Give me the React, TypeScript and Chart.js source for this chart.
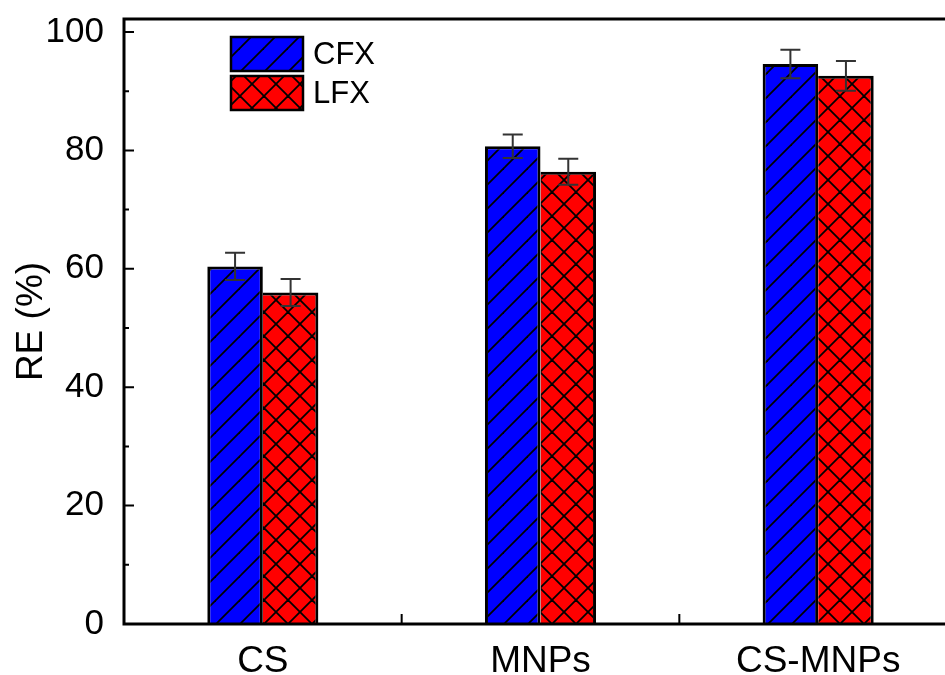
import React, { useEffect, useRef } from "react";
import { Chart, registerables } from "chart.js";

Chart.register(...registerables);

const categories = ["CS", "MNPs", "CS-MNPs"];
const seriesNames = ["CFX", "LFX"];
const cfxValues = [60.4, 80.7, 94.6];
const cfxErrors = [2.3, 2.0, 2.4];
const lfxValues = [56.0, 76.4, 92.6];
const lfxErrors = [2.3, 2.2, 2.5];
const yTickValues = [0, 20, 40, 60, 80, 100];
const yMinorValues = [10, 30, 50, 70, 90];

const FONT = "Arial, 'Liberation Sans', sans-serif";

function makeHatch(color: string, cross: boolean): CanvasPattern | string {
  const s = 24;
  const c = document.createElement("canvas");
  c.width = s;
  c.height = s;
  const g = c.getContext("2d");
  if (!g) return color;
  g.fillStyle = color;
  g.fillRect(0, 0, s, s);
  g.strokeStyle = "#000";
  g.lineWidth = 1.8;
  const seg = (x1: number, y1: number, x2: number, y2: number) => {
    g.beginPath();
    g.moveTo(x1, y1);
    g.lineTo(x2, y2);
    g.stroke();
  };
  // "/" direction
  seg(-2, s + 2, s + 2, -2);
  seg(-2, 2, 2, -2);
  seg(s - 2, s + 2, s + 2, s - 2);
  if (cross) {
    // "\" direction
    seg(-2, -2, s + 2, s + 2);
    seg(s - 2, -2, s + 2, 2);
    seg(-2, s - 2, 2, s + 2);
  }
  const p = g.createPattern(c, "repeat");
  return p || color;
}

const errorBars = {
  id: "errorBars",
  afterDatasetsDraw(chart: any) {
    const { ctx } = chart;
    const yScale = chart.scales.y;
    ctx.save();
    ctx.strokeStyle = "#333";
    ctx.lineWidth = 2;
    chart.data.datasets.forEach((ds: any, di: number) => {
      const meta = chart.getDatasetMeta(di);
      meta.data.forEach((bar: any, i: number) => {
        const v = ds.data[i];
        const e = ds.errors[i];
        const top = yScale.getPixelForValue(v + e);
        const bot = yScale.getPixelForValue(v - e);
        const x = bar.x;
        const cap = 10;
        ctx.beginPath();
        ctx.moveTo(x, top);
        ctx.lineTo(x, bot);
        ctx.moveTo(x - cap, top);
        ctx.lineTo(x + cap, top);
        ctx.moveTo(x - cap, bot);
        ctx.lineTo(x + cap, bot);
        ctx.stroke();
      });
    });
    ctx.restore();
  },
};

const frameAndTicks = {
  id: "frameAndTicks",
  afterDraw(chart: any) {
    const { ctx, chartArea } = chart;
    const { left, right, top, bottom } = chartArea;
    const yScale = chart.scales.y;
    const xScale = chart.scales.x;
    ctx.save();
    ctx.strokeStyle = "#000";
    ctx.lineWidth = 3;
    ctx.strokeRect(left, top, right - left, bottom - top);
    ctx.lineWidth = 2;
    ctx.beginPath();
    yTickValues.forEach((v) => {
      const y = yScale.getPixelForValue(v);
      ctx.moveTo(left, y);
      ctx.lineTo(left + 10, y);
    });
    yMinorValues.forEach((v) => {
      const y = yScale.getPixelForValue(v);
      ctx.moveTo(left, y);
      ctx.lineTo(left + 5, y);
    });
    for (let i = 0; i < categories.length - 1; i++) {
      const x = (xScale.getPixelForValue(i) + xScale.getPixelForValue(i + 1)) / 2;
      ctx.moveTo(x, bottom);
      ctx.lineTo(x, bottom - 10);
    }
    ctx.stroke();
    ctx.restore();
  },
};

const insetLegend = {
  id: "insetLegend",
  afterDraw(chart: any) {
    const { ctx } = chart;
    const bx = 231;
    const bw = 72;
    const bh = 34;
    const rows = [37, 76];
    ctx.save();
    chart.data.datasets.forEach((ds: any, i: number) => {
      const y = rows[i];
      ctx.fillStyle = ds.backgroundColor;
      ctx.fillRect(bx, y, bw, bh);
      ctx.strokeStyle = "#000";
      ctx.lineWidth = 2.5;
      ctx.strokeRect(bx, y, bw, bh);
      ctx.fillStyle = "#000";
      ctx.font = `31px ${FONT}`;
      ctx.textBaseline = "middle";
      ctx.textAlign = "left";
      ctx.fillText(ds.label, bx + bw + 10, y + bh / 2 + 1);
    });
    ctx.restore();
  },
};

export default function App() {
  const ref = useRef<HTMLCanvasElement | null>(null);

  useEffect(() => {
    if (!ref.current) return;
    const chart = new Chart(ref.current, {
      type: "bar",
      data: {
        labels: categories,
        datasets: [
          {
            label: seriesNames[0],
            data: cfxValues,
            errors: cfxErrors,
            backgroundColor: makeHatch("#0000FF", false),
            borderColor: "#000",
            borderWidth: { top: 3, left: 3, right: 3, bottom: 0 },
            borderSkipped: false,
          } as any,
          {
            label: seriesNames[1],
            data: lfxValues,
            errors: lfxErrors,
            backgroundColor: makeHatch("#FF0000", true),
            borderColor: "#000",
            borderWidth: { top: 3, left: 0, right: 3, bottom: 0 },
            borderSkipped: false,
          } as any,
        ],
      },
      options: {
        responsive: false,
        animation: false,
        layout: { padding: { left: 0, top: 19, right: 13, bottom: 0 } },
        datasets: { bar: { categoryPercentage: 0.4, barPercentage: 1 } },
        plugins: {
          legend: { display: false },
          tooltip: { enabled: false },
        },
        scales: {
          x: {
            grid: { display: false, drawTicks: false },
            border: { display: false },
            ticks: {
              color: "#000",
              padding: 16,
              font: { family: FONT, size: 37 },
            },
            afterFit(scale: any) {
              scale.height = 51;
            },
          },
          y: {
            min: 0,
            max: 102.2,
            grid: { display: false, drawTicks: false },
            border: { display: false },
            afterBuildTicks(scale: any) {
              scale.ticks = yTickValues.map((v) => ({ value: v }));
            },
            ticks: {
              color: "#000",
              padding: 20,
              font: { family: FONT, size: 35, lineHeight: 1.1 },
            },
            title: {
              display: true,
              text: "RE (%)",
              color: "#000",
              padding: { top: 10, bottom: 0 },
              font: { family: FONT, size: 37 },
            },
            afterFit(scale: any) {
              scale.width = 124;
              scale.paddingTop = 0;
              scale.paddingBottom = 0;
            },
          },
        },
      },
      plugins: [errorBars, frameAndTicks, insetLegend],
    });
    return () => chart.destroy();
  }, []);

  return (
    <div
      style={{
        position: "fixed",
        left: 0,
        top: 0,
        width: 945,
        height: 675,
        overflow: "hidden",
        background: "#fff",
      }}
    >
      <canvas ref={ref} width={970} height={675} style={{ width: 970, height: 675, display: "block" }} />
    </div>
  );
}
